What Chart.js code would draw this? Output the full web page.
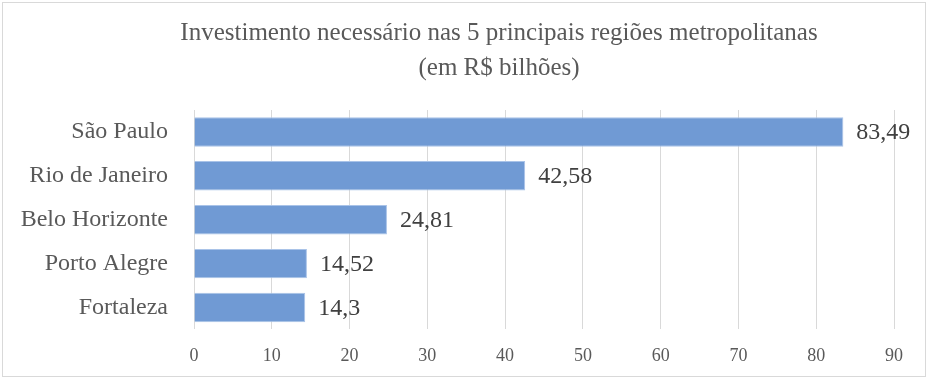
<!DOCTYPE html>
<html lang="pt">
<head>
    <meta charset="UTF-8">
    <title>Investimento necessário</title>
    <style>
        body {
    margin: 0;
    padding: 0;
    background-color: #ffffff;
}

.frame {
    position: absolute;
    left: 2px;
    top: 2px;
    width: 924px;
    height: 375px;
    border: 1px solid #d9d9d9;
    box-sizing: border-box;
}

#investChart {
    position: absolute;
    left: 0;
    top: 0;
}
    </style>
</head>
<body>
    <div class="frame"></div>
    <canvas id="investChart" width="931" height="383"></canvas>
    <script src="https://cdn.jsdelivr.net/npm/chart.js"></script>
    <script>
// Data
const regions = ['São Paulo', 'Rio de Janeiro', 'Belo Horizonte', 'Porto Alegre', 'Fortaleza'];
const investment = [83.49, 42.58, 24.81, 14.52, 14.3];
const xTicks = [0, 10, 20, 30, 40, 50, 60, 70, 80, 90];
const titleLines = ['Investimento necessário nas 5 principais regiões metropolitanas', '(em R$ bilhões)'];

const serif = "'Liberation Serif', 'Times New Roman', serif";

// title drawn by hand so it can sit off-centre like the original
const chartTitle = {
    id: 'chartTitle',
    afterDraw(chart) {
        const ctx = chart.ctx;
        ctx.save();
        ctx.font = '25px ' + serif;
        ctx.fillStyle = '#595959';
        ctx.textAlign = 'center';
        ctx.textBaseline = 'middle';
        ctx.fillText(titleLines[0], 499, 33);
        ctx.fillText(titleLines[1], 499, 68);
        ctx.restore();
    }
};

// draws the value at the end of each bar
const valueLabels = {
    id: 'valueLabels',
    afterDatasetsDraw(chart) {
        const ctx = chart.ctx;
        const meta = chart.getDatasetMeta(0);
        ctx.save();
        ctx.font = '24px ' + serif;
        ctx.fillStyle = '#404040';
        ctx.textAlign = 'left';
        ctx.textBaseline = 'middle';
        meta.data.forEach(function(bar, i) {
            const txt = String(investment[i]).replace('.', ',');
            ctx.fillText(txt, bar.x + 13, bar.y + 1);
        });
        ctx.restore();
    }
};

document.addEventListener('DOMContentLoaded', function() {
    const ctx = document.getElementById('investChart').getContext('2d');

    new Chart(ctx, {
        type: 'bar',
        data: {
            labels: regions,
            datasets: [{
                data: investment,
                backgroundColor: '#709ad4',
                borderColor: '#a9c3e8',
                borderWidth: 1,
                barPercentage: 0.67,
                categoryPercentage: 1
            }]
        },
        options: {
            indexAxis: 'y',
            responsive: false,
            animation: false,
            layout: {
                padding: { left: 0, right: 37, top: 110, bottom: 0 }
            },
            plugins: {
                legend: { display: false },
                tooltip: { enabled: false },
                title: { display: false }
            },
            scales: {
                x: {
                    min: 0,
                    max: 90,
                    afterBuildTicks(scale) {
                        scale.ticks = xTicks.map(v => ({ value: v }));
                    },
                    grid: { color: '#d9d9d9', drawTicks: false },
                    border: { display: false },
                    ticks: {
                        color: '#595959',
                        padding: 16,
                        font: { family: serif, size: 18 }
                    }
                },
                y: {
                    afterFit(scale) {
                        scale.width = 194;
                    },
                    grid: { display: false, drawTicks: false },
                    border: { display: false },
                    ticks: {
                        color: '#595959',
                        padding: 26,
                        font: { family: serif, size: 24 }
                    }
                }
            }
        },
        plugins: [valueLabels, chartTitle]
    });
});
    </script>
</body>
</html>
